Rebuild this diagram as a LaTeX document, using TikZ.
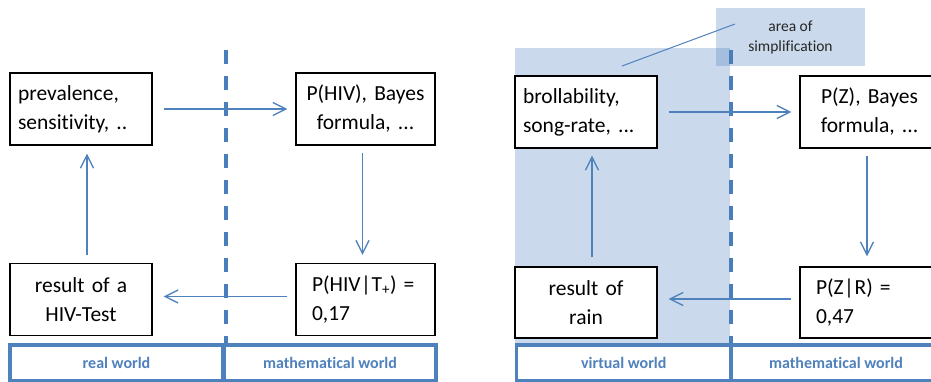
\documentclass[tikz,border=0pt]{standalone}
\usepackage{fontspec}
\setmainfont[Ligatures={NoCommon}]{Carlito}
\usetikzlibrary{arrows.meta,calc}
\definecolor{accent}{HTML}{4F81BD}
\definecolor{bardash}{HTML}{4A7EBB}
\begin{document}
\begin{tikzpicture}[x=1pt,y=-1pt,
  box/.style={draw=black, line width=1.4pt, fill=white, minimum width=142pt,
    minimum height=72pt, inner ysep=0pt, font=\fontsize{21.5}{29}\selectfont},
  flow/.style={draw=accent, line width=1.3pt, -{Straight Barb[length=13pt,width=13pt]}},
  divider/.style={draw=bardash, line width=3.6pt, dash pattern=on 14pt off 12pt},
  worldbox/.style={draw=accent, line width=3.5pt, fill=white, minimum height=36pt,
    inner sep=0pt, text=accent, font=\bfseries\fontsize{16}{18}\selectfont},
  shade/.style={fill=accent, fill opacity=0.3, text opacity=1}]
\clip (0,0) rectangle (931,381);
% shaded area of simplification
\fill[shade] (515,48) rectangle (730,381);
\node[shade, minimum width=149pt, minimum height=58pt, inner sep=0pt, align=center,
  text=black!85, font=\fontsize{15.5}{20}\selectfont] (callout) at (790.5,37) {area of\\simplification};
\coordinate (ctail) at (735,24);
\coordinate (chead) at (622,66);
\draw[accent, line width=1pt] (ctail) -- (chead);
% dashed dividers
\coordinate (d1t) at (226,50);
\coordinate (d1b) at (226,345);
\coordinate (d2t) at (731,50);
\coordinate (d2b) at (731,345);
\draw[divider] (d1t) -- (d1b);
\draw[divider] (d2t) -- (d2b);
% left panel boxes
\node[box, align=left, inner xsep=8pt, text width=126pt] (b1) at (81,109) {prevalence,\\sensitivity, ..};
\node[box, align=center, minimum width=139pt, text width=123pt] (b2) at (365.5,109) {P(HIV), Bayes\\formula, ...};
\node[box, align=center, text width=126pt] (b3) at (81,299.5) {result of a\\HIV-Test};
\node[box, align=left, minimum width=139pt, inner xsep=16pt, text width=107pt] (b4) at (365.5,299.5) {P(HIV\kern0.5pt|\kern0.5pt T\textsubscript{+})~=\\0,17};
% right panel boxes
\node[box, align=left, inner xsep=8pt, text width=126pt] (b5) at (586,112) {brollability,\\song-rate, ...};
\node[box, align=center, minimum width=139pt, text width=123pt] (b6) at (869.5,112) {P(Z), Bayes\\formula, ...};
\node[box, align=center, text width=126pt, minimum height=71pt] (b7) at (586,302.5) {result of\\rain};
\node[box, align=left, minimum width=139pt, minimum height=71pt, inner xsep=16pt, text width=107pt] (b8) at (869.5,302.5) {P(Z\kern0.5pt|\kern0.5pt R)~=\\0,47};
% left arrows
\draw[flow] ([xshift=11pt]b1.east) -- ([xshift=-8pt]b2.west);
\draw[flow] ([xshift=-3pt,yshift=-7pt]b2.south) -- ([xshift=-3pt,yshift=8pt]b4.north);
\draw[flow] ([xshift=-8pt,yshift=3pt]b4.west) -- ([xshift=11pt,yshift=3pt]b3.east);
\draw[flow] ([xshift=6pt,yshift=8pt]b3.north) -- ([xshift=6pt,yshift=-8pt]b1.south);
% right arrows
\draw[flow] ([xshift=11pt]b5.east) -- ([xshift=-8pt]b6.west);
\draw[flow] ([xshift=-2.5pt,yshift=-7pt]b6.south) -- ([xshift=-2.5pt,yshift=10pt]b8.north);
\draw[flow] ([xshift=-8pt,yshift=3.5pt]b8.west) -- ([xshift=11pt,yshift=3.5pt]b7.east);
\draw[flow] ([xshift=6pt,yshift=9pt]b7.north) -- ([xshift=6pt,yshift=-7pt]b5.south);
% world bars
\node[worldbox, minimum width=213pt] (w1) at (116.5,363) {real world};
\node[worldbox, minimum width=212pt] (w2) at (330,363) {mathematical world};
\node[worldbox, minimum width=214.5pt] (w3) at (623.75,363) {virtual world};
\node[worldbox, minimum width=210pt] (w4) at (836,363) {mathematical world};
\end{tikzpicture}
\end{document}
